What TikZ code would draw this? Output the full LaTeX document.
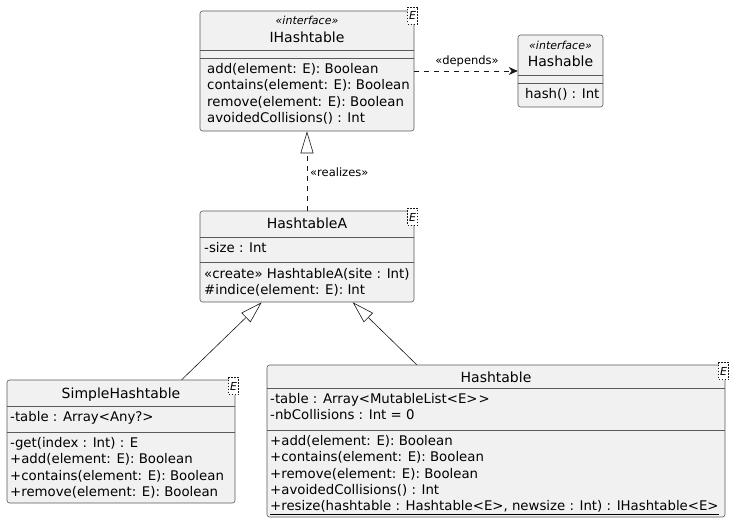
\documentclass[tikz,border=0pt]{standalone}
\usepackage{fontspec}
\setmainfont{DejaVu Sans}
\usetikzlibrary{arrows.meta,calc}
\definecolor{boxfill}{HTML}{F1F1F1}
\definecolor{boxline}{HTML}{5A5A5A}
\definecolor{connline}{HTML}{181818}
\begin{document}
\begin{tikzpicture}[x=1pt,y=-1pt,
  umlbox/.style={draw=boxline, fill=boxfill, rounded corners=2.5pt, line width=0.6pt, inner sep=0pt},
  member/.style={anchor=base west, inner sep=0pt, font=\fontsize{13.3}{16}\selectfont},
  cname/.style={anchor=base, inner sep=0pt, font=\fontsize{14}{16}\selectfont},
  stereo/.style={anchor=base, inner sep=0pt, font=\fontsize{11}{13}\selectfont\itshape},
  tmpl/.style={draw=connline, dashed, dash pattern=on 1.5pt off 1.5pt, fill=white, inner sep=0pt, font=\fontsize{11}{13}\selectfont\itshape, minimum width=10pt, minimum height=17pt},
  sepline/.style={draw=boxline, line width=0.6pt},
  conn/.style={draw=connline, line width=0.6pt},
  lbl/.style={inner sep=0pt, font=\fontsize{11.5}{13}\selectfont},
  realize/.style={conn, dash pattern=on 5pt off 5pt, -{Triangle[open, length=22pt, width=13pt]}},
  inherit/.style={conn, -{Triangle[open, length=22pt, width=13pt]}},
  depend/.style={conn, dash pattern=on 5pt off 5pt, -{Stealth[length=9pt, width=8pt, inset=3pt]}},
]
\useasboundingbox[fill=white] (0,0) rectangle (735,526);

% ---- IHashtable
\node[umlbox, minimum width=214pt, minimum height=120pt] (ih) at (307,71) {};
\draw[sepline] (ih.west |- 0,50) -- (ih.east |- 0,50);
\draw[sepline] (ih.west |- 0,58) -- (ih.east |- 0,58);
\node[stereo] (ihs) at (307,25) {«interface»};
\node[cname] (ihn) at (307,43) {IHashtable};
\node[member] (ihm1) at (207,73.5) {add(element: E): Boolean};
\node[member] (ihm2) at (207,89.8) {contains(element: E): Boolean};
\node[member] (ihm3) at (207,106.1) {remove(element: E): Boolean};
\node[member] (ihm4) at (207,122.4) {avoidedCollisions() : Int};
\node[tmpl] (ihe) at (412.5,15.5) {E};

% ---- Hashable
\node[umlbox, minimum width=85pt, minimum height=72pt] (hb) at (560.5,71) {};
\draw[sepline] (hb.west |- 0,75) -- (hb.east |- 0,75);
\draw[sepline] (hb.west |- 0,83) -- (hb.east |- 0,83);
\node[stereo] (hbs) at (560.5,50) {«interface»};
\node[cname] (hbn) at (560.5,67) {Hashable};
\node[member] (hbm1) at (525,99) {hash() : Int};

% ---- HashtableA
\node[umlbox, minimum width=214pt, minimum height=91pt] (hta) at (307,256.5) {};
\draw[sepline] (hta.west |- 0,237) -- (hta.east |- 0,237);
\draw[sepline] (hta.west |- 0,262) -- (hta.east |- 0,262);
\node[cname] (htan) at (307,229) {HashtableA};
\node[member] (htaf1) at (204,252.5) {-size : Int};
\node[member] (htam1) at (204,278) {«create» HashtableA(site : Int)};
\node[member] (htam2) at (204,294.3) {\#indice(element: E): Int};
\node[tmpl] (htae) at (412.5,217) {E};

% ---- SimpleHashtable
\node[umlbox, minimum width=228pt, minimum height=123pt] (sh) at (121,441.5) {};
\draw[sepline] (sh.west |- 0,406) -- (sh.east |- 0,406);
\draw[sepline] (sh.west |- 0,432) -- (sh.east |- 0,432);
\node[cname] (shn) at (121,398) {SimpleHashtable};
\node[member] (shf1) at (10,421.5) {-table : Array<Any?>};
\node[member] (shm1) at (10,447.5) {-get(index : Int) : E};
\node[member] (shm2) at (10,463.8) {+add(element: E): Boolean};
\node[member] (shm3) at (10,480.1) {+contains(element: E): Boolean};
\node[member] (shm4) at (10,496.4) {+remove(element: E): Boolean};
\node[tmpl] (she) at (233.5,386) {E};

% ---- Hashtable
\node[umlbox, minimum width=458pt, minimum height=152pt] (ht) at (496,441) {};
\draw[sepline] (ht.west |- 0,388) -- (ht.east |- 0,388);
\draw[sepline] (ht.west |- 0,430) -- (ht.east |- 0,430);
\node[cname] (htn) at (496,382) {Hashtable};
\node[member] (htf1) at (270,403.5) {-table : Array<MutableList<E>\kern1pt>};
\node[member] (htf2) at (270,419.8) {-nbCollisions : Int = 0};
\node[member] (htm1) at (270,445.5) {+add(element: E): Boolean};
\node[member] (htm2) at (270,461.8) {+contains(element: E): Boolean};
\node[member] (htm3) at (270,478.1) {+remove(element: E): Boolean};
\node[member] (htm4) at (270,494.4) {+avoidedCollisions() : Int};
\node[member] (htm5) at (270,510.7) {\underline{+resize(hashtable : Hashtable<E>, newsize : Int) : IHashtable<E>}};
\node[tmpl] (hte) at (723.5,371) {E};

% ---- connectors
\draw[depend] (ih.east |- hb.west) -- (hb.west);
\node[lbl, anchor=base] (dlbl) at (467,65) {«depends»};

\draw[realize] (hta.north) -- (ih.south);
\node[lbl, anchor=base west] (rlbl) at (310,177) {«realizes»};

\coordinate (shtop) at ($(sh.north west)+(175,0)$);
\coordinate (httop) at ($(ht.north west)+(150,0)$);
\coordinate (htaL) at ($(hta.south west)+(62,0)$);
\coordinate (htaR) at ($(hta.south west)+(153,0)$);
\draw[inherit] (shtop) -- (htaL);
\draw[inherit] (httop) -- (htaR);
\end{tikzpicture}
\end{document}
